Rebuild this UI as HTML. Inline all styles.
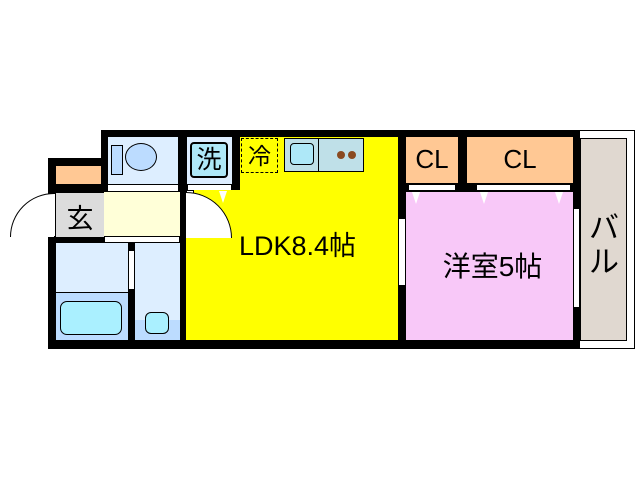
<!DOCTYPE html>
<html><head><meta charset="utf-8"><style>
body{margin:0;background:#fff;width:638px;height:480px;position:relative;overflow:hidden;font-family:"Liberation Sans","Noto Sans CJK JP",sans-serif}
div{position:absolute;box-sizing:border-box}
.t{text-align:center;color:#000}
.tri{width:0;height:0;border-left:4px solid transparent;border-right:4px solid transparent;border-top:12px solid #fff}
</style></head><body>
<!-- balcony -->
<div style="left:578px;top:130px;width:57px;height:219px;border:1px solid #000;background:#fff"></div>
<div style="left:580px;top:138px;width:47px;height:203px;background:#e0d8d0;border:1px solid #000"></div>
<div class="t" style="left:584px;top:212px;width:40px;font-size:30px;line-height:34px">バ<br>ル</div>
<!-- black frame -->
<div style="left:101px;top:130px;width:479px;height:219px;background:#000"></div>
<div style="left:48px;top:158px;width:60px;height:191px;background:#000"></div>
<!-- toilet room -->
<div style="left:108px;top:137px;width:70px;height:47px;background:#ddeeff"></div>
<div style="left:111px;top:145px;width:12px;height:30px;background:#bcdcff;border:1px solid #000"></div>
<div style="left:125px;top:143px;width:32px;height:28px;background:#bcdcff;border:1px solid #000;border-radius:50%"></div>
<div style="left:108px;top:184px;width:70px;height:8px;background:#fff;border-top:1px solid #000;border-bottom:1px solid #000"></div>
<!-- washer -->
<div style="left:187px;top:137px;width:45px;height:47px;background:#ddeeff"></div>
<div class="t" style="left:190px;top:142px;width:38px;height:36px;background:#aee8f8;border:2px solid #000;border-radius:4px;font-size:25px;line-height:32px">洗</div>
<div style="left:187px;top:184px;width:45px;height:8px;background:#fff;border:1px solid #000"></div>
<!-- LDK -->
<div style="left:186px;top:190px;width:212px;height:150px;background:#ffff00"></div>
<div style="left:240px;top:137px;width:158px;height:60px;background:#ffff00"></div>
<div class="t" style="left:241px;top:138px;width:37px;height:35px;border:1px dashed #000;font-size:23px;line-height:34px">冷</div>
<div style="left:284px;top:138px;width:80px;height:34px;background:#bfe0e8;border:1px solid #000"></div>
<div style="left:290px;top:143px;width:24px;height:22px;background:#aee8f8;border:1px solid #000;border-radius:4px"></div>
<div style="left:318px;top:138px;width:46px;height:34px;background:#bfe0e8;border:1px solid #000"></div>
<div style="left:337px;top:151px;width:8px;height:8px;background:#8a4a20;border-radius:50%"></div>
<div style="left:348px;top:151px;width:8px;height:8px;background:#8a4a20;border-radius:50%"></div>
<div class="tri" style="left:219px;top:191px"></div>
<div class="t" style="left:210px;top:224px;width:175px;font-size:27px">LDK8.4帖</div>
<div style="left:186px;top:190px;width:8px;height:46px;background:#fff;border:1px solid #000"></div>
<div style="left:140px;top:192px;width:92px;height:92px;border:1px solid #000;border-radius:50%;clip-path:inset(0 0 50% 50%);background:#fff"></div>
<!-- entrance -->
<div style="left:56px;top:166px;width:45px;height:18px;background:#ffc894"></div>
<div style="left:56px;top:193px;width:48px;height:44px;background:#dcdcdc"></div>
<div class="t" style="left:56px;top:197px;width:48px;font-size:27px">玄</div>
<div style="left:104px;top:192px;width:76px;height:45px;background:#ffffd8"></div>
<div style="left:48px;top:193px;width:8px;height:44px;background:#fff;border:1px solid #000"></div>
<div style="left:10px;top:193px;width:88px;height:88px;border:1px solid #000;border-radius:50%;clip-path:inset(0 50% 50% 0);background:#fff"></div>
<div style="left:104px;top:236px;width:76px;height:7px;background:#fff;border:1px solid #000"></div>
<!-- bath -->
<div style="left:56px;top:243px;width:72px;height:97px;background:#ddeeff"></div>
<div style="left:56px;top:292px;width:72px;height:48px;background:#bcdcff;border-top:1px solid #000"></div>
<div style="left:60px;top:301px;width:62px;height:34px;background:#aaf0ff;border:1px solid #000;border-radius:7px"></div>
<div style="left:128px;top:250px;width:7px;height:40px;background:#fff;border:1px solid #000"></div>
<div style="left:135px;top:243px;width:45px;height:97px;background:#ddeeff"></div>
<div style="left:135px;top:320px;width:45px;height:20px;background:#bcdcff"></div>
<div style="left:145px;top:312px;width:24px;height:22px;background:#aaf0ff;border:1px solid #000;border-radius:6px"></div>
<!-- western room -->
<div style="left:406px;top:192px;width:167px;height:148px;background:#f8c8f8"></div>
<div class="t" style="left:410px;top:245px;width:165px;font-size:28px">洋室5帖</div>
<div style="left:406px;top:137px;width:52px;height:46px;background:#ffc894"></div>
<div class="t" style="left:404px;top:144px;width:56px;font-size:26px">CL</div>
<div style="left:467px;top:137px;width:106px;height:46px;background:#ffc894"></div>
<div class="t" style="left:467px;top:144px;width:106px;font-size:26px">CL</div>
<div style="left:408px;top:184px;width:48px;height:7px;background:#fff;border:1px solid #000"></div>
<div style="left:476px;top:184px;width:95px;height:7px;background:#fff;border:1px solid #000"></div>
<div class="tri" style="left:412px;top:192px"></div>
<div class="tri" style="left:480px;top:192px"></div>
<div class="tri" style="left:555px;top:192px"></div>
<div style="left:398px;top:218px;width:8px;height:68px;background:#fff;border:1px solid #000"></div>
<div style="left:573px;top:208px;width:7px;height:100px;background:#fff;border:1px solid #000"></div>
</body></html>
